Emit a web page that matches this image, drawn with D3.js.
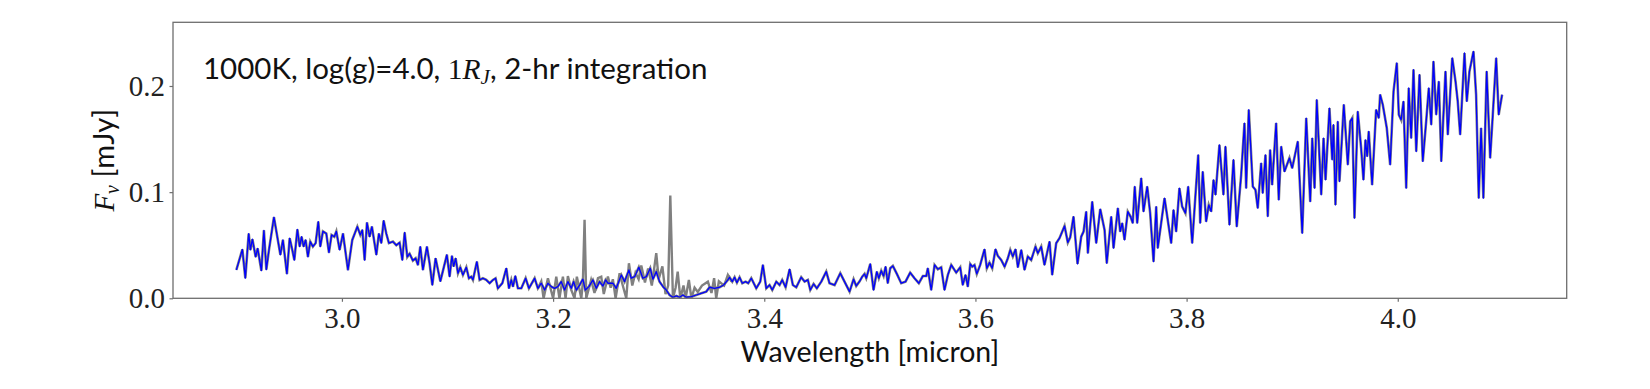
<!DOCTYPE html>
<html>
<head>
<meta charset="utf-8">
<script src="https://cdn.jsdelivr.net/npm/d3@7"></script>
<style>
  body { margin: 0; background: #fff; }
  svg { display: block; }
</style>
</head>
<body>
<svg id="chart" width="1650" height="389"></svg>
<script>
/* global d3 */

// Model spectrum (blue), wavelength in micron and flux in mJy
var blueWave = [
    2.900, 2.9057, 2.9085, 2.9117, 2.9133, 2.9152, 2.9183, 2.9202, 2.9237, 2.9261,
    2.9284, 2.9309, 2.9356, 2.9417, 2.9441, 2.9479, 2.9505, 2.953, 2.9549, 2.9578,
    2.960, 2.9618, 2.9637, 2.9656, 2.9678, 2.970, 2.9725, 2.9751, 2.9776, 2.9795,
    2.982, 2.9852, 2.9877, 2.9902, 2.9928, 2.9947, 2.9978, 3.001, 3.0057, 3.0098,
    3.0146, 3.0174, 3.0193, 3.0215, 3.0237, 3.0262, 3.0284, 3.0326, 3.035, 3.0373,
    3.0395, 3.042, 3.0445, 3.0483, 3.0515, 3.0546, 3.0572, 3.0594, 3.0619, 3.0641,
    3.0672, 3.0698, 3.072, 3.0742, 3.0767, 3.0805, 3.083, 3.0856, 3.0887, 3.0932,
    3.0994, 3.102, 3.1042, 3.1058, 3.1077, 3.1099, 3.1121, 3.1146, 3.1178, 3.1203,
    3.1225, 3.1241, 3.1278, 3.1304, 3.1335, 3.1367, 3.1399, 3.143, 3.1455, 3.1477,
    3.1519, 3.1557, 3.1582, 3.1604, 3.162, 3.1642, 3.1667, 3.1699, 3.174, 3.1771,
    3.1825, 3.1856, 3.1888, 3.192, 3.1951, 3.1983, 3.2014, 3.2045, 3.2077, 3.2109,
    3.214, 3.2172, 3.2194, 3.222, 3.2251, 3.2282, 3.2305, 3.2339, 3.2377, 3.2409,
    3.244, 3.2472, 3.2497, 3.2519, 3.2566, 3.2598, 3.2646, 3.2677, 3.2718, 3.274,
    3.2772, 3.2812, 3.285, 3.2883, 3.292, 3.2945, 3.2977, 3.3008, 3.3046, 3.3072,
    3.3103, 3.3134, 3.3167, 3.3198, 3.3229, 3.3261, 3.3309, 3.3356, 3.3403, 3.3451,
    3.3482, 3.3529, 3.3577, 3.3615, 3.3655, 3.3671, 3.3697, 3.3719, 3.3741, 3.3766,
    3.3792, 3.3823, 3.3848, 3.3877, 3.3924, 3.3962, 3.3987, 3.4019, 3.405, 3.4076,
    3.4114, 3.4145, 3.417, 3.4202, 3.424, 3.4271, 3.4303, 3.435, 3.4382, 3.4413,
    3.4436, 3.4467, 3.4498, 3.454, 3.4587, 3.4618, 3.4666, 3.472, 3.476, 3.4808,
    3.4846, 3.4871, 3.4903, 3.4928, 3.495, 3.4966, 3.5004, 3.5035, 3.5066, 3.5085,
    3.5108, 3.513, 3.5149, 3.517, 3.5193, 3.5218, 3.5256, 3.5297, 3.5338, 3.5382,
    3.5423, 3.5464, 3.5502, 3.5534, 3.5549, 3.5581, 3.5613, 3.5644, 3.5676, 3.5707,
    3.5739, 3.5771, 3.5818, 3.5856, 3.588, 3.5906, 3.5928, 3.5951, 3.597, 3.5991,
    3.6013, 3.6045, 3.6086, 3.6108, 3.6133, 3.6159, 3.619, 3.6212, 3.6244, 3.6276,
    3.6307, 3.633, 3.6354, 3.638, 3.6402, 3.6434, 3.6465, 3.6496, 3.6528, 3.6569,
    3.6591, 3.6623, 3.6654, 3.6702, 3.6727, 3.6765, 3.6796, 3.6844, 3.6875, 3.6898,
    3.6929, 3.6967, 3.7002, 3.7024, 3.7049, 3.7065, 3.7106, 3.7144, 3.7182, 3.7223,
    3.7244, 3.7286, 3.7308, 3.7349, 3.7371, 3.739, 3.7412, 3.7443, 3.7469, 3.749,
    3.7509, 3.7532, 3.757, 3.7592, 3.7627, 3.7655, 3.7687, 3.7712, 3.7727, 3.7791,
    3.7854, 3.7876, 3.7901, 3.7932, 3.7958, 3.7989, 3.8015, 3.8053, 3.811, 3.8129,
    3.8153, 3.8185, 3.821, 3.8233, 3.8255, 3.8274, 3.8311, 3.8349, 3.8368, 3.8406,
    3.8444, 3.8475, 3.8517, 3.8548, 3.8564, 3.8589, 3.8627, 3.8652, 3.8674, 3.8706,
    3.8721, 3.8747, 3.8769, 3.8791, 3.881, 3.8848, 3.8873, 3.8896, 3.8927, 3.8974,
    3.900, 3.9053, 3.9095, 3.9133, 3.9171, 3.919, 3.9212, 3.9233, 3.9275, 3.9297,
    3.9316, 3.9353, 3.9379, 3.9391, 3.941, 3.9432, 3.9448, 3.9489, 3.9527, 3.955,
    3.9569, 3.959, 3.9621, 3.9653, 3.9675, 3.9694, 3.971, 3.9725, 3.9757, 3.9795,
    3.982, 3.9833, 3.9858, 3.9896, 3.9928, 3.996, 3.9991, 4.001, 4.0032, 4.0054,
    4.008, 4.0104, 4.0127, 4.0149, 4.0175, 4.0206, 4.0237, 4.0269, 4.0294, 4.0317,
    4.0338, 4.0364, 4.0389, 4.0412, 4.0452, 4.0474, 4.0516, 4.0547, 4.0568, 4.0591,
    4.0632, 4.0654, 4.0679, 4.0717, 4.0742, 4.0767, 4.0789, 4.0811, 4.0842, 4.0875,
    4.090, 4.0932, 4.0956, 4.0988
];
var blueFlux = [
    0.0267, 0.046, 0.019, 0.061, 0.0456, 0.0557, 0.039, 0.047, 0.026, 0.064,
    0.027, 0.0456, 0.0764, 0.041, 0.055, 0.023, 0.0566, 0.0456, 0.036, 0.065,
    0.0487, 0.058, 0.0487, 0.055, 0.039, 0.0534, 0.0487, 0.052, 0.0723, 0.0487,
    0.063, 0.061, 0.043, 0.0597, 0.058, 0.063, 0.0456, 0.061, 0.0267, 0.055,
    0.0675, 0.0597, 0.0644, 0.036, 0.0713, 0.058, 0.0675, 0.041, 0.061, 0.052,
    0.0732, 0.061, 0.052, 0.0534, 0.050, 0.0525, 0.036, 0.062, 0.039, 0.042,
    0.0355, 0.0377, 0.0314, 0.0487, 0.0267, 0.0487, 0.033, 0.0125, 0.0377, 0.016,
    0.041, 0.0204, 0.040, 0.030, 0.0377, 0.0236, 0.0292, 0.022, 0.0292, 0.0189,
    0.0204, 0.0173, 0.0345, 0.0173, 0.0189, 0.0173, 0.0142, 0.0173, 0.0189, 0.0094,
    0.0142, 0.0283, 0.0094, 0.0173, 0.011, 0.021, 0.0094, 0.0094, 0.0189, 0.0094,
    0.0189, 0.0094, 0.0142, 0.0078, 0.0142, 0.011, 0.0094, 0.011, 0.0157, 0.0078,
    0.0157, 0.0094, 0.0157, 0.0078, 0.0125, 0.018, 0.0078, 0.011, 0.0173, 0.0094,
    0.0157, 0.0116, 0.0173, 0.0142, 0.0142, 0.0094, 0.022, 0.0157, 0.0267, 0.0189,
    0.0204, 0.0292, 0.0189, 0.0204, 0.0283, 0.018, 0.0251, 0.0157, 0.0104, 0.0078,
    0.0031, 0.001, 0.0022, 0.001, 0.0031, 0.001, 0.0015, 0.0031, 0.0047, 0.0063,
    0.0104, 0.0094, 0.0104, 0.0125, 0.0173, 0.0198, 0.0157, 0.0198, 0.0147, 0.0198,
    0.0142, 0.0157, 0.0142, 0.0189, 0.0094, 0.0157, 0.0314, 0.0094, 0.0125, 0.0078,
    0.0157, 0.0125, 0.0173, 0.0104, 0.0274, 0.0125, 0.0104, 0.0198, 0.0157, 0.0173,
    0.0078, 0.0135, 0.0094, 0.0157, 0.0251, 0.0142, 0.0125, 0.0236, 0.0157, 0.0063,
    0.018, 0.0116, 0.016, 0.0204, 0.023, 0.0189, 0.0324, 0.0078, 0.0251, 0.0189,
    0.026, 0.021, 0.0298, 0.0142, 0.0283, 0.0305, 0.023, 0.0142, 0.0157, 0.0242,
    0.0189, 0.0142, 0.021, 0.021, 0.0283, 0.0078, 0.0314, 0.0274, 0.0292, 0.0078,
    0.022, 0.0314, 0.0242, 0.0292, 0.0125, 0.022, 0.011, 0.0324, 0.0298, 0.0314,
    0.023, 0.0314, 0.0462, 0.0283, 0.0336, 0.0283, 0.0462, 0.0399, 0.0361, 0.0298,
    0.0377, 0.0456, 0.0393, 0.0462, 0.0292, 0.0456, 0.0267, 0.0393, 0.0361, 0.0487,
    0.0425, 0.0487, 0.0314, 0.0534, 0.022, 0.0519, 0.0566, 0.0682, 0.0525, 0.0575,
    0.0770, 0.0324, 0.0581, 0.0628, 0.0817, 0.0425, 0.0911, 0.0519, 0.084, 0.0644,
    0.033, 0.077, 0.0472, 0.0849, 0.0628, 0.0708, 0.055, 0.0817, 0.077, 0.0708,
    0.1053, 0.0708, 0.1132, 0.0817, 0.1053, 0.0802, 0.0345, 0.0864, 0.0472, 0.0943,
    0.0519, 0.0833, 0.0628, 0.1038, 0.0864, 0.0802, 0.1053, 0.0519, 0.1352, 0.0708,
    0.1194, 0.0723, 0.088, 0.0817, 0.1116, 0.0975, 0.1446, 0.0975, 0.143, 0.0692,
    0.1305, 0.0675, 0.1163, 0.1651, 0.1038, 0.1776, 0.1053, 0.1022, 0.0849, 0.1274,
    0.0991, 0.1352, 0.077, 0.1399, 0.1069, 0.1651, 0.0927, 0.143, 0.1194, 0.1321,
    0.1226, 0.1477, 0.0613, 0.1698, 0.0911, 0.1509, 0.1038, 0.1871, 0.0975, 0.1509,
    0.1116, 0.1792, 0.1305, 0.1635, 0.088, 0.1666, 0.11, 0.1824, 0.1258, 0.1666,
    0.1698, 0.0755, 0.176, 0.1415, 0.1116, 0.1493, 0.1336, 0.1572, 0.1069, 0.1776,
    0.1698, 0.1918, 0.1824, 0.1604, 0.1258, 0.1949, 0.2217, 0.1729, 0.1682, 0.1855,
    0.1038, 0.1981, 0.1509, 0.2154, 0.1383, 0.2107, 0.1289, 0.1666, 0.1981, 0.1635,
    0.2232, 0.1729, 0.2043, 0.1289, 0.2138, 0.1541, 0.2264, 0.2043, 0.1855, 0.1541,
    0.2311, 0.1855, 0.2138, 0.2326, 0.1918, 0.0943, 0.1604, 0.0943, 0.2138, 0.1321,
    0.1729, 0.2264, 0.1729, 0.1918
];

// Simulated observation (gray) where it departs from the model, 3.19-3.37 micron
var grayWave = [
    3.1856, 3.1888, 3.191, 3.1951, 3.200, 3.203, 3.206, 3.2093, 3.2118, 3.214,
    3.2172, 3.2203, 3.2225, 3.2267, 3.2282, 3.2298, 3.2314, 3.236, 3.2392, 3.2425,
    3.2456, 3.248, 3.2519, 3.2545, 3.2566, 3.2592, 3.263, 3.266, 3.2693, 3.2718,
    3.275, 3.278, 3.281, 3.2835, 3.287, 3.290, 3.2935, 3.2977, 3.300, 3.3035,
    3.3065, 3.309, 3.311, 3.3135, 3.316, 3.318, 3.3205, 3.3235, 3.3255, 3.3286,
    3.331, 3.334, 3.337, 3.341, 3.3466, 3.350, 3.3525, 3.3545, 3.357, 3.362,
    3.3655, 3.369
];
var grayFlux = [
    0.0094, 0.016, 0.0, 0.0189, 0.0, 0.0204, 0.0, 0.0204, 0.0, 0.021,
    0.008, 0.0, 0.0204, 0.0, 0.015, 0.0739, 0.0, 0.0173, 0.005, 0.019,
    0.0204, 0.004, 0.0204, 0.010, 0.018, 0.0, 0.0236, 0.012, 0.0, 0.033,
    0.012, 0.024, 0.018, 0.031, 0.015, 0.028, 0.012, 0.0425, 0.018, 0.030,
    0.004, 0.012, 0.0968, 0.0, 0.010, 0.0251, 0.0, 0.012, 0.0, 0.0173,
    0.0, 0.010, 0.006, 0.012, 0.0157, 0.005, 0.0189, 0.0, 0.016, 0.012,
    0.022, 0.0157
];

// Axis ticks
var xTicks = [3.0, 3.2, 3.4, 3.6, 3.8, 4.0];
var yTicks = [0.0, 0.1, 0.2];

// Dimension
var svg = d3.select("#chart");
var margin = { left: 173, top: 22.3, right: 83.3, bottom: 90.7 };
var width = 1650 - margin.left - margin.right;
var height = 389 - margin.top - margin.bottom;
var serif = "'Liberation Serif', 'Times New Roman', serif";
var sans = "Lato, 'Liberation Sans', sans-serif";

var x = d3.scaleLinear().domain([2.84, 4.16]).range([0, width]);
var y = d3.scaleLinear().domain([0, 0.26]).range([height, 0]);

var g = svg.append("g")
    .attr("transform", `translate(${margin.left}, ${margin.top})`);

var blue = blueWave.map((w, i) => [w, blueFlux[i]]);
var gray = grayWave.map((w, i) => [w, grayFlux[i]]);

var line = d3.line()
    .x(d => x(d[0]))
    .y(d => y(d[1]));

// Spectra
// --------------------
var plot = g.append("g").attr("id", "spectra");
plot.append("path")
    .datum(blue)
    .attr("d", line)
    .style("fill", "none")
    .style("stroke", "#808080")
    .style("stroke-width", 2.6);
plot.append("path")
    .datum(gray)
    .attr("d", line)
    .style("fill", "none")
    .style("stroke", "#808080")
    .style("stroke-width", 2.4);
plot.append("path")
    .datum(blue)
    .attr("d", line)
    .style("fill", "none")
    .style("stroke", "#0000ff")
    .style("stroke-width", 1.3)
    .style("stroke-linejoin", "round");

// Axes
// --------------------
var xAxis = g.append("g")
    .attr("transform", `translate(0, ${height})`)
    .call(d3.axisBottom(x).tickValues(xTicks).tickFormat(d3.format(".1f"))
        .tickSize(3.5).tickPadding(5.5));
var yAxis = g.append("g")
    .call(d3.axisLeft(y).tickValues(yTicks).tickFormat(d3.format(".1f"))
        .tickSize(3.5).tickPadding(4.5));

[xAxis, yAxis].forEach(a => {
    a.select(".domain").remove();
    a.selectAll("line").style("stroke", "#6e6e6e").style("stroke-width", 1.2);
    a.selectAll("text")
        .style("font-family", serif)
        .style("font-size", "29px")
        .style("fill", "#222");
});

// Frame
g.append("rect")
    .attr("width", width)
    .attr("height", height)
    .style("fill", "none")
    .style("stroke", "#6e6e6e")
    .style("stroke-width", 1.3);

// Labels
// --------------------
var title = g.append("text")
    .attr("x", 30)
    .attr("y", 57)
    .style("font-family", sans)
    .style("font-size", "29.5px")
    .style("fill", "#111");
title.append("tspan").text("1000K, log(g)=4.0, ");
title.append("tspan").text("1").style("font-family", serif);
title.append("tspan").text("R").style("font-family", serif).style("font-style", "italic");
title.append("tspan").text("J").attr("dy", 5).attr("font-size", "21px")
    .style("font-family", serif).style("font-style", "italic");
title.append("tspan").text(", 2-hr integration").attr("dy", -5);

g.append("text")
    .attr("x", width / 2)
    .attr("y", 362 - margin.top)
    .attr("text-anchor", "middle")
    .style("font-family", sans)
    .style("font-size", "28.5px")
    .style("fill", "#111")
    .text("Wavelength [micron]");

var ylab = g.append("text")
    .attr("transform", `translate(${114 - margin.left}, ${height / 2}) rotate(-90)`)
    .attr("text-anchor", "middle")
    .style("font-family", sans)
    .style("font-size", "29px")
    .style("fill", "#111");
ylab.append("tspan").text("F").style("font-family", serif).style("font-style", "italic");
ylab.append("tspan").text("\u03bd").attr("dy", 5).attr("font-size", "20px")
    .style("font-family", serif).style("font-style", "italic");
ylab.append("tspan").text(" [mJy]").attr("dy", -5);
</script>
</body>
</html>
